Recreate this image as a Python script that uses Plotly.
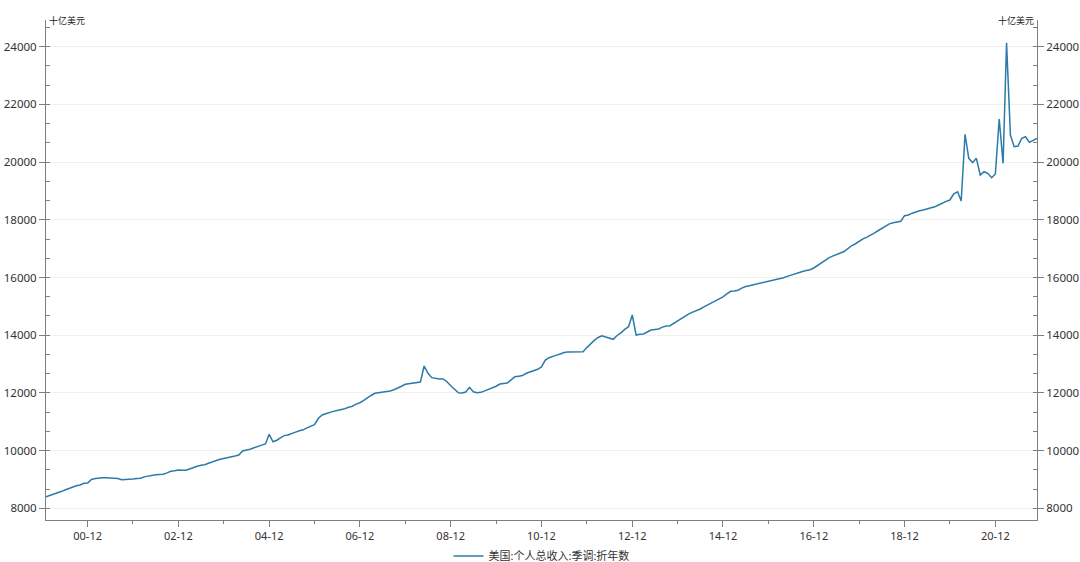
import pandas as pd
import plotly.graph_objects as go

# Monthly values, 十亿美元 (billions USD), Jan 2000 - Nov 2021
y2000 = [8400, 8440, 8490, 8530, 8580, 8634, 8690, 8749, 8780, 8810, 8866, 8880]
y2001 = [9000, 9030, 9050, 9060, 9061, 9058, 9050, 9030, 8990, 8992, 9010, 9015]
y2002 = [9030, 9045, 9090, 9120, 9150, 9165, 9175, 9180, 9230, 9282, 9300, 9328]
y2003 = [9320, 9317, 9360, 9421, 9460, 9490, 9510, 9560, 9615, 9650, 9700, 9730]
y2004 = [9750, 9766, 9810, 9847, 9986, 10020, 10045, 10100, 10160, 10190, 10229, 10565]
y2005 = [10308, 10360, 10440, 10520, 10540, 10580, 10640, 10690, 10720, 10790, 10850, 10898]
y2006 = [11120, 11234, 11280, 11327, 11360, 11390, 11407, 11450, 11500, 11540, 11610, 11660]
y2007 = [11740, 11840, 11910, 11986, 12000, 12030, 12050, 12066, 12110, 12159, 12230, 12298]
y2008 = [12320, 12340, 12360, 12377, 12932, 12680, 12530, 12495, 12482, 12482, 12388, 12250]
y2009 = [12120, 12007, 12000, 12030, 12194, 12040, 12007, 12020, 12070, 12124, 12160, 12230]
y2010 = [12308, 12320, 12343, 12450, 12561, 12580, 12600, 12680, 12735, 12780, 12818, 12900]
y2011 = [13140, 13220, 13270, 13310, 13350, 13400, 13417, 13420, 13425, 13428, 13430, 13570]
y2012 = [13719, 13830, 13920, 13982, 13940, 13892, 13858, 13990, 14080, 14200, 14294, 14700]
y2013 = [14006, 14031, 14041, 14110, 14180, 14200, 14215, 14280, 14319, 14329, 14420, 14502]
y2014 = [14580, 14660, 14740, 14800, 14849, 14910, 14980, 15050, 15110, 15180, 15260, 15330]
y2015 = [15430, 15520, 15532, 15560, 15630, 15690, 15715, 15745, 15770, 15810, 15854, 15880]
y2016 = [15913, 15930, 15948, 15990, 16040, 16086, 16130, 16170, 16210, 16240, 16270, 16330]
y2017 = [16420, 16520, 16600, 16680, 16740, 16790, 16850, 16900, 17000, 17100, 17170, 17260]
y2018 = [17340, 17400, 17460, 17540, 17620, 17700, 17800, 17860, 17900, 17934, 17950, 18142]
y2019 = [18166, 18230, 18280, 18310, 18339, 18370, 18398, 18450, 18512, 18580, 18640, 18686]
y2020 = [18900, 18973, 18651, 20963, 20131, 19979, 20131, 19552, 19667, 19611, 19459, 19587]
y2021 = [21493, 19958, 24138, 20938, 20533, 20557, 20824, 20880, 20685, 20750, 20824]

series_name = "美国:个人总收入:季调:折年数"
unit_label = "十亿美元"

values = (y2000 + y2001 + y2002 + y2003 + y2004 + y2005 + y2006 + y2007 + y2008 +
          y2009 + y2010 + y2011 + y2012 + y2013 + y2014 + y2015 + y2016 + y2017 +
          y2018 + y2019 + y2020 + y2021)
dates = pd.date_range("2000-01-01", periods=len(values), freq="MS")

font_family = "Noto Sans, Noto Sans CJK SC, sans-serif"
axis_color = "#7f7f7f"
text_color = "#333333"
yrange = [7595, 24925]

fig = go.Figure()
fig.add_trace(go.Scatter(
    x=dates, y=values, mode="lines", name=series_name,
    line=dict(color="#2b7ba9", width=1.5),
))
# invisible trace to activate right axis
fig.add_trace(go.Scatter(
    x=dates, y=values, mode="lines", yaxis="y2", showlegend=False,
    line=dict(color="rgba(0,0,0,0)", width=0), hoverinfo="skip",
))

yaxis_common = dict(
    range=yrange, tick0=8000, dtick=2000, tickformat="d",
    showline=True, linecolor=axis_color, linewidth=1,
    ticks="outside", ticklen=6, tickcolor=axis_color,
    tickfont=dict(size=11.5, color=text_color, family=font_family),
    minor=dict(dtick=2000 / 3, tick0=8000, ticks="inside", ticklen=4,
               tickcolor=axis_color, showgrid=False),
    zeroline=False, automargin=False,
)

fig.update_layout(
    width=1080, height=562,
    margin=dict(l=46, r=43, t=20, b=42, autoexpand=False),
    plot_bgcolor="white", paper_bgcolor="white",
    font=dict(family=font_family, color=text_color),
    showlegend=True,
    legend=dict(orientation="h", x=0.5, xanchor="center", y=-0.072, yanchor="middle",
                font=dict(size=11, color=text_color, family=font_family),
                bgcolor="rgba(0,0,0,0)"),
    xaxis=dict(
        type="date", range=[dates[0], dates[-1]],
        tick0="2000-12-01", dtick="M24", tickformat="%y-%m",
        showline=True, linecolor=axis_color, linewidth=1,
        ticks="outside", ticklen=6, tickcolor=axis_color,
        tickfont=dict(size=11, color=text_color, family=font_family),
        minor=dict(dtick="M12", tick0="2001-12-01", ticks="outside", ticklen=3,
                   tickcolor=axis_color, showgrid=False),
        showgrid=False, zeroline=False, automargin=False,
    ),
    yaxis=dict(**yaxis_common, showgrid=True, gridcolor="#f0f0f0", gridwidth=1),
    yaxis2=dict(**yaxis_common, overlaying="y", side="right", showgrid=False),
    annotations=[
        dict(text=unit_label, xref="paper", yref="paper", x=0, y=1, xanchor="left",
             yanchor="middle", showarrow=False, xshift=1,
             font=dict(size=9, color="#222222", family=font_family)),
        dict(text=unit_label, xref="paper", yref="paper", x=1, y=1, xanchor="right",
             yanchor="middle", showarrow=False, xshift=-1,
             font=dict(size=9, color="#222222", family=font_family)),
    ],
)

fig.write_html(
    "out.html",
    config={"displayModeBar": False},
    post_script="document.body.style.margin='0';document.body.style.overflow='hidden';",
)
